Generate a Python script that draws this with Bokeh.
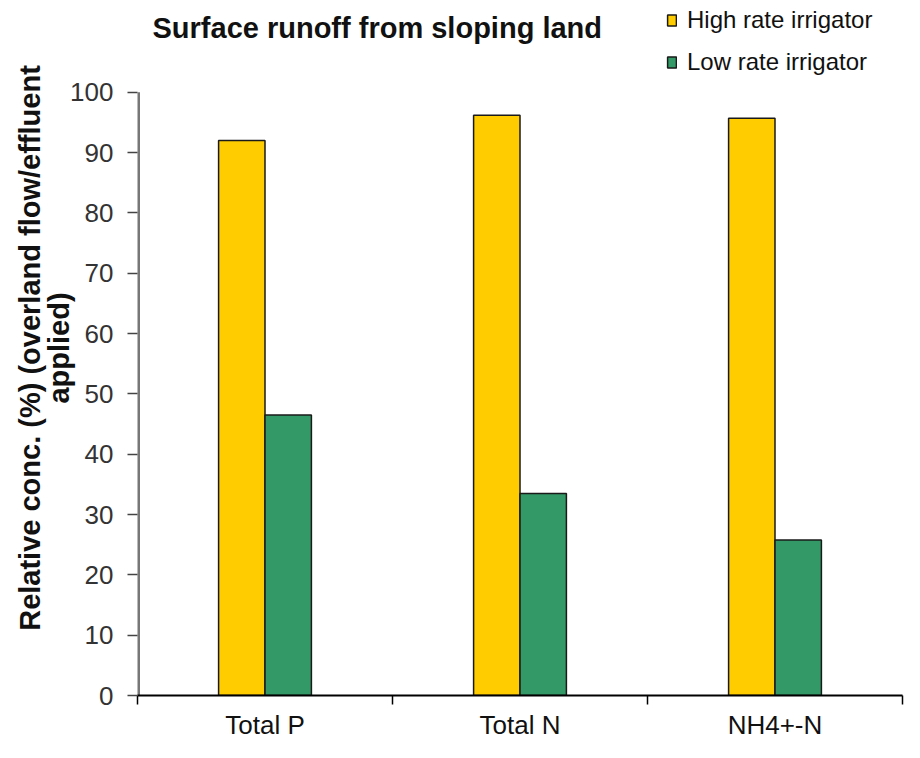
from bokeh.plotting import figure
from bokeh.models import ColumnDataSource, FixedTicker, Label, Legend, LegendItem, Range1d
from bokeh.transform import dodge
from bokeh.embed import file_html
from bokeh.resources import INLINE

categories = ["Total P", "Total N", "NH4+-N"]
high_rate = [92.0, 96.2, 95.7]
low_rate = [46.5, 33.5, 25.8]
y_ticks = [0, 10, 20, 30, 40, 50, 60, 70, 80, 90, 100]
series_names = ["High rate irrigator", "Low rate irrigator"]
title_text = "Surface runoff from sloping land"
ylabel_text = "Relative conc. (%) (overland flow/effluent\napplied)"

ARIAL = "Liberation Sans, Arial, sans-serif"

W, H = 904, 742
TOP100 = 92          # pixel row of the value 100
BOTTOM = 46          # bottom border
frame_h = H - BOTTOM
y_end = y_ticks[-1] * frame_h / (frame_h - TOP100)   # frame extends above 100 to hold title/legend

pos = [i + 0.5 for i in range(len(categories))]
src = ColumnDataSource(dict(x=pos, high=high_rate, low=low_rate, cat=categories))

p = figure(width=W, height=H, output_backend="svg", toolbar_location=None,
           x_range=Range1d(0, len(categories)), y_range=Range1d(0, y_end))
p.min_border_left = 137
p.min_border_right = 2
p.min_border_top = 0
p.min_border_bottom = BOTTOM
p.outline_line_color = None
p.xgrid.visible = False
p.ygrid.visible = False
p.title.visible = False

w = 0.182
r1 = p.vbar(x=dodge("x", -w / 2, range=p.x_range), top="high", width=w, source=src,
            fill_color="#FFCC00", line_color="#1a1a1a", line_width=1.5)
r2 = p.vbar(x=dodge("x", w / 2, range=p.x_range), top="low", width=w, source=src,
            fill_color="#339966", line_color="#1a1a1a", line_width=1.5)

# y axis line only from 0 to 100
p.segment(x0=[0], y0=[y_ticks[0]], x1=[0], y1=[y_ticks[-1]], line_color="#777777", line_width=5)

# x axis
xa = p.xaxis[0]
xa.ticker = FixedTicker(ticks=pos, minor_ticks=list(range(len(categories) + 1)))
xa.major_label_overrides = {pp: c for pp, c in zip(pos, categories)}
xa.major_tick_out = 0
xa.major_tick_in = 0
xa.minor_tick_out = 9
xa.minor_tick_in = 0
xa.minor_tick_line_color = "black"
xa.minor_tick_line_width = 1.5
xa.axis_line_color = "black"
xa.axis_line_width = 2
xa.major_label_standoff = 5
xa.major_label_text_font = ARIAL
xa.major_label_text_font_size = "26px"
xa.major_label_text_color = "#111111"

# y axis
ya = p.yaxis[0]
ya.ticker = FixedTicker(ticks=y_ticks, minor_ticks=[])
ya.axis_line_color = None
ya.major_tick_out = 10
ya.major_tick_in = 0
ya.major_tick_line_color = "#444444"
ya.major_tick_line_width = 1.5
ya.major_label_standoff = 14
ya.major_label_text_font = ARIAL
ya.major_label_text_font_size = "26px"
ya.major_label_text_color = "#333333"
ya.axis_label = ylabel_text
ya.axis_label_text_font = ARIAL
ya.axis_label_text_font_style = "bold"
ya.axis_label_text_font_size = "29px"
ya.axis_label_text_color = "#111111"
ya.axis_label_text_line_height = 0.92
ya.axis_label_standoff = -8

# title
p.add_layout(Label(x=15, y=frame_h - 28, x_units="screen", y_units="screen",
                   text=title_text, text_font=ARIAL, text_font_style="bold",
                   text_font_size="29px", text_color="#111111",
                   text_baseline="middle", text_align="left"))

legend = Legend(items=[LegendItem(label=series_names[0], renderers=[r1]),
                       LegendItem(label=series_names[1], renderers=[r2])],
                location=(529, frame_h - 77), orientation="vertical")
legend.background_fill_alpha = 0
legend.border_line_color = None
legend.padding = 0
legend.margin = 0
legend.spacing = 14
legend.glyph_width = 11
legend.glyph_height = 14
legend.label_height = 28
legend.label_standoff = 10
legend.label_text_font = ARIAL
legend.label_text_font_size = "24px"
legend.label_text_color = "#111111"
legend.label_text_baseline = "middle"
p.add_layout(legend, "center")

open("out.html", "w").write(file_html(p, INLINE))
